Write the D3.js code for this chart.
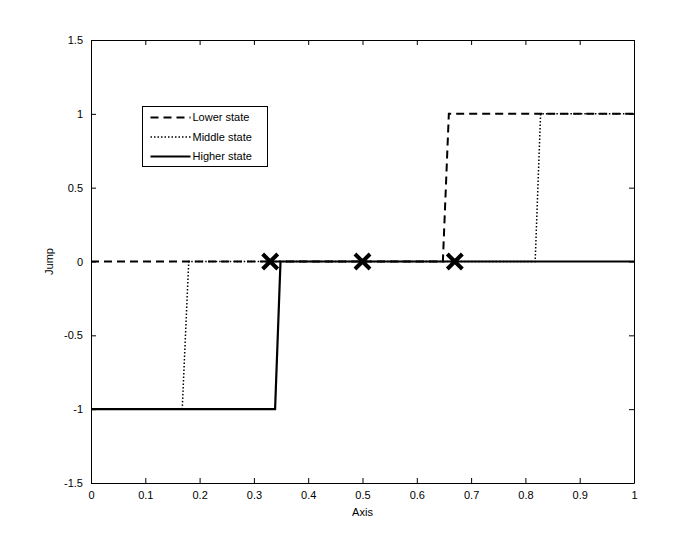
<!DOCTYPE html>
<html>
<head>
<meta charset="utf-8">
<script src="https://cdn.jsdelivr.net/npm/d3@7"></script>
<style>
  body { margin: 0; background: #fff; }
  text { font-family: "Liberation Sans", Arial, sans-serif; fill: #000; }
</style>
</head>
<body>
<div id="chart"></div>
<script>
// series data (x, jump)
const lowerX = [0, 0.648, 0.659, 1];
const lowerY = [0, 0, 1, 1];
const middleX = [0, 0.168, 0.18, 0.818, 0.828, 1];
const middleY = [-1, -1, 0, 0, 1, 1];
const higherX = [0, 0.339, 0.349, 1];
const higherY = [-1, -1, 0, 0];
// cross markers
const markX = [0.33, 0.5, 0.67];
const markY = [0, 0, 0];

const xTicks = [0, 0.1, 0.2, 0.3, 0.4, 0.5, 0.6, 0.7, 0.8, 0.9, 1];
const yTicks = [-1.5, -1, -0.5, 0, 0.5, 1, 1.5];
const legendLabels = ["Lower state", "Middle state", "Higher state"];

const width = 700;
const height = 543;
const margin = { left: 91, top: 40, right: 66, bottom: 60 };
const w = width - margin.left - margin.right;
const h = height - margin.top - margin.bottom;

const svg = d3
  .select("#chart")
  .append("svg")
  .attr("width", width)
  .attr("height", height);

const x = d3.scaleLinear().domain([0, 1]).range([0, w]);
const y = d3.scaleLinear().domain([-1.5, 1.5]).range([h, 0]);

const g = svg
  .append("g")
  .attr("transform", `translate(${margin.left},${margin.top})`);

//axes, ticks pointing inward like matlab
const fmt = (d) => String(d);
const bottomAxis = d3.axisBottom(x).tickValues(xTicks).tickFormat(fmt).tickSizeInner(-5).tickSizeOuter(0).tickPadding(8);
const topAxis = d3.axisTop(x).tickValues(xTicks).tickFormat("").tickSizeInner(-5).tickSizeOuter(0);
const leftAxis = d3.axisLeft(y).tickValues(yTicks).tickFormat(fmt).tickSizeInner(-5).tickSizeOuter(0).tickPadding(8);
const rightAxis = d3.axisRight(y).tickValues(yTicks).tickFormat("").tickSizeInner(-5).tickSizeOuter(0);

const axes = [
  [bottomAxis, `translate(0,${h})`],
  [topAxis, "translate(0,0)"],
  [leftAxis, "translate(0,0)"],
  [rightAxis, `translate(${w},0)`],
];
axes.forEach(([ax, tr]) => {
  const a = g.append("g").attr("transform", tr).call(ax);
  a.selectAll("path, line").attr("stroke", "#000").attr("stroke-width", 1);
  a.selectAll("text").style("font-size", "11px").style("font-family", '"Liberation Sans", Arial, sans-serif');
});

//axis labels
g.append("text")
  .attr("x", w / 2)
  .attr("y", h + 33)
  .attr("text-anchor", "middle")
  .style("font-size", "11px")
  .text("Axis");

g.append("text")
  .attr("transform", `translate(-38,${h / 2}) rotate(-90)`)
  .attr("text-anchor", "middle")
  .style("font-size", "11px")
  .text("Jump");

const line = d3
  .line()
  .x((d) => x(d[0]))
  .y((d) => y(d[1]));

const series = [
  { xs: lowerX, ys: lowerY, dash: "8,5", sw: 2 },
  { xs: middleX, ys: middleY, dash: "1.5,2", sw: 1.5 },
  { xs: higherX, ys: higherY, dash: null, sw: 2.2 },
];

series.forEach((s) => {
  g.append("path")
    .datum(d3.zip(s.xs, s.ys))
    .attr("d", line)
    .attr("fill", "none")
    .attr("stroke", "#000")
    .attr("stroke-width", s.sw)
    .attr("stroke-dasharray", s.dash);
});

//cross markers
const cross = d3.symbol().type(d3.symbolTimes).size(150);
g.selectAll(".mark")
  .data(d3.zip(markX, markY))
  .enter()
  .append("path")
  .attr("class", "mark")
  .attr("transform", (d) => `translate(${x(d[0])},${y(d[1])})`)
  .attr("d", cross)
  .attr("fill", "none")
  .attr("stroke", "#000")
  .attr("stroke-width", 4);

//legend
const legend = svg.append("g").attr("transform", "translate(142.5,106.5)");
legend
  .append("rect")
  .attr("width", 125)
  .attr("height", 60)
  .attr("fill", "#fff")
  .attr("stroke", "#000")
  .attr("stroke-width", 1);

legendLabels.forEach((lbl, i) => {
  const ly = 11 + i * 19.5;
  legend
    .append("line")
    .attr("x1", 8)
    .attr("x2", 48)
    .attr("y1", ly)
    .attr("y2", ly)
    .attr("stroke", "#000")
    .attr("stroke-width", series[i].sw)
    .attr("stroke-dasharray", series[i].dash);
  legend
    .append("text")
    .attr("x", 50)
    .attr("y", ly)
    .attr("dy", "0.35em")
    .style("font-size", "11px")
    .text(lbl);
});
</script>
</body>
</html>
